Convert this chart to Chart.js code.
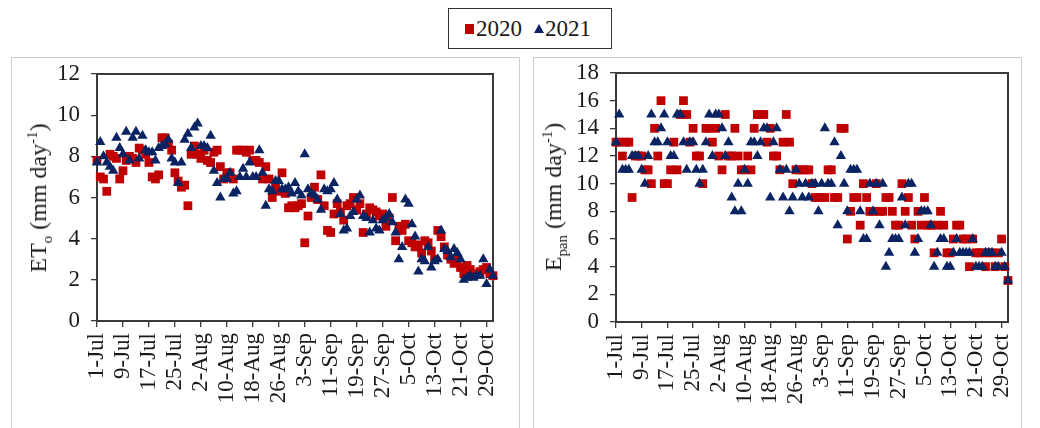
<!DOCTYPE html>
<html>
<head>
<meta charset="utf-8">
<script src="https://cdn.jsdelivr.net/npm/chart.js@4.4.1/dist/chart.umd.min.js"></script>
<style>
  html, body { margin: 0; padding: 0; background: #fff; }
  body { width: 1040px; height: 428px; overflow: hidden; position: relative;
         font-family: "Liberation Serif", "Times New Roman", serif; color: #1a1a1a; }
  .frame { position: absolute; top: 57px; height: 420px; border: 1.5px solid #cdcdcd; box-sizing: border-box; }
  .legend { position: absolute; left: 448px; top: 8px; width: 164px; height: 41px;
            border: 1.5px solid #333; box-sizing: border-box; background: #fff;
            display: flex; align-items: center; font-size: 23px; }
  .sq { display: inline-block; width: 9px; height: 10px; background: #C00000; margin: 0 2px 0 16px; }
  .tri { display: inline-block; width: 0; height: 0; border-left: 5px solid transparent;
         border-right: 5px solid transparent; border-bottom: 9px solid #0A2463; margin: 0 1px 0 12px; }
  .box { position: absolute; top: 0; height: 428px; }
  .ytitle { position: absolute; white-space: nowrap; font-size: 24px; line-height: 1;
            transform: translate(-50%, -50%) rotate(-90deg); }
  .ytitle sub, .ytitle sup { font-size: 0.62em; line-height: 0; }
</style>
</head>
<body>
<div class="frame" style="left:11px;width:509px;"></div>
<div class="frame" style="left:533px;width:489px;"></div>

<div class="legend"><span class="sq"></span>2020<span class="tri"></span>2021</div>

<div class="box" style="left:0;width:525px;"><canvas id="et" width="525" height="428"></canvas></div>
<div class="box" style="left:525px;width:515px;"><canvas id="ep" width="515" height="428"></canvas></div>

<div class="ytitle" style="left:38px;top:198px;">ET<sub>o</sub> (mm day<sup>-1</sup>)</div>
<div class="ytitle" style="left:553px;top:197px;">E<sub>pan</sub> (mm day<sup>-1</sup>)</div>

<script>
// Daily series, 1 July (index 0) to 31 October (index 122)
const dateTicks = ['1-Jul','9-Jul','17-Jul','25-Jul','2-Aug','10-Aug','18-Aug','26-Aug',
                   '3-Sep','11-Sep','19-Sep','27-Sep','5-Oct','13-Oct','21-Oct','29-Oct'];
const tickStepDays = 8;

// Reference evapotranspiration ETo (mm/day)
const eto2020 = [
  7.8,7.0,6.9,6.3,8.1,8.0,7.9,6.9,7.3,7.8, 8.0,7.9,7.7,8.4,8.3,8.1,7.7,7.0,6.9,7.1,
  8.9,8.9,8.6,8.3,7.2,6.8,6.5,6.6,5.6,8.1, 8.5,8.1,7.9,8.3,7.8,7.7,8.2,8.3,7.5,6.9,
  7.2,7.2,6.9,8.3,8.3,8.3,8.2,8.3,7.8,7.8, 7.7,6.9,7.5,6.9,6.0,6.5,6.3,7.2,6.2,5.5,
  5.6,5.5,5.6,5.7,3.8,5.1,6.0,6.5,5.9,7.1, 5.6,4.4,4.3,5.2,5.7,5.3,4.9,5.6,5.7,6.0,
  5.4,5.7,4.3,5.2,5.5,5.4,5.3,5.1,5.2,4.6, 5.0,6.0,3.9,4.6,4.4,4.7,3.9,3.8,3.6,3.7,
  3.3,3.9,3.8,3.4,3.0,4.4,4.1,3.6,3.2,3.0, 2.8,3.0,2.6,2.3,2.7,2.5,2.2,2.3,2.4,2.5,
  2.6,2.3,2.2
];
const eto2021 = [
  7.7,8.7,8.0,7.7,7.5,7.3,8.9,8.4,8.1,9.2, 7.8,8.9,9.2,7.9,9.0,8.3,8.2,8.2,7.8,8.4,
  8.5,8.6,8.8,7.9,7.7,6.7,7.7,8.8,9.1,8.4, 9.4,9.6,8.5,8.5,8.4,9.0,7.3,6.7,6.0,6.9,
  6.9,7.2,6.2,6.3,7.0,7.4,7.0,7.7,7.0,7.0, 8.3,7.2,5.6,6.4,6.3,6.8,6.8,6.4,6.4,6.5,
  6.2,6.7,6.3,6.1,8.1,6.4,6.2,6.1,5.9,5.4, 6.4,6.3,6.4,6.7,5.9,5.2,4.4,4.5,5.1,5.3,
  5.9,6.1,5.1,5.0,4.3,4.9,4.5,4.4,4.9,5.0, 5.2,4.8,4.3,3.0,3.6,5.9,5.7,4.7,4.1,2.4,
  3.0,2.9,3.6,2.6,2.9,3.0,4.4,3.5,3.4,3.1, 3.5,3.3,3.0,2.0,2.1,2.2,2.1,2.2,2.2,3.0,
  1.8,2.5,2.2
];

// Pan evaporation Epan (mm/day)
const epan2020 = [
  13,13,12,13,13,9,12,12,12,11, 11,10,14,12,16,10,10,11,13,11,
  15,16,15,13,14,12,12,10,14,14, 13,14,12,11,15,12,12,14,12,11,
  11,12,11,14,15,15,15,13,14,12, 12,11,13,15,13,10,11,11,11,11,
  11,10,9,9,9,9,11,11,9,9, 14,14,6,8,9,9,7,10,9,8,
  8,10,8,8,9,9,8,7,7,10, 8,9,7,6,8,7,9,7,7,5,
  7,8,7,5,5,6,7,7,6,6, 4,6,5,5,5,4,5,5,4,5,
  6,4,3
];
const epan2021 = [
  13,15,11,11,11,12,12,12,11,10, 12,15,13,13,14,15,13,12,12,15,
  15,13,11,13,13,11,10,11,13,15, 12,15,15,14,12,13,9,8,10,8,
  11,10,13,13,12,13,14,14,9,13, 14,11,9,11,8,9,11,10,9,10,
  9,10,10,8,10,14,10,10,13,7, 12,10,8,11,11,11,8,6,6,10,
  8,10,7,10,4,5,6,6,6,9, 7,10,10,5,6,8,8,8,7,4,
  5,6,6,4,4,5,6,5,5,5, 5,6,4,4,4,5,5,5,4,4,
  5,4,3
];

const RED = '#C00000';
const NAVY = '#0A2463';
const INK = '#1a1a1a';
const AXIS = '#3a3a3a';
const SERIF = '"Liberation Serif", "Times New Roman", serif';
const lastDay = 122;

const toPoints = arr => arr.map((v, i) => ({ x: i, y: v }));

// Closes the plot area with a full rectangular border
const plotFrame = {
  id: 'plotFrame',
  beforeDatasetsDraw(chart) {
    const a = chart.chartArea, ctx = chart.ctx;
    ctx.save();
    ctx.strokeStyle = AXIS;
    ctx.lineWidth = 2;
    ctx.strokeRect(a.left, a.top, a.right - a.left, a.bottom - a.top);
    ctx.restore();
  }
};

function makeChart(id, s2020, s2021, yMax, yStep, geom) {
  return new Chart(document.getElementById(id), {
    type: 'scatter',
    data: {
      datasets: [
        { label: '2020', data: toPoints(s2020), pointStyle: 'rect', pointRadius: 6.2,
          backgroundColor: RED, borderColor: RED, borderWidth: 0, order: 1, clip: false },
        { label: '2021', data: toPoints(s2021), pointStyle: 'triangle', pointRadius: 6,
          backgroundColor: NAVY, borderColor: NAVY, borderWidth: 0, order: 0, clip: false }
      ]
    },
    options: {
      responsive: false,
      animation: false,
      devicePixelRatio: 1,
      layout: { padding: { left: 0, top: geom.top, right: geom.right, bottom: 0 } },
      plugins: { legend: { display: false }, tooltip: { enabled: false } },
      elements: { point: { hoverRadius: 6 } },
      scales: {
        x: {
          type: 'linear', min: 0, max: lastDay,
          afterBuildTicks: s => { s.ticks = dateTicks.map((_, i) => ({ value: i * tickStepDays })); },
          afterFit: s => { s.height = geom.xHeight; },
          ticks: {
            autoSkip: false, minRotation: 90, maxRotation: 90, padding: 6,
            color: INK, font: { family: SERIF, size: 23 },
            callback: (v, i) => dateTicks[i]
          },
          grid: { drawOnChartArea: false, drawTicks: true, tickLength: 6, color: AXIS, lineWidth: 1.3 },
          border: { display: true, color: AXIS, width: 2 }
        },
        y: {
          min: 0, max: yMax,
          afterFit: s => { s.width = geom.yWidth; },
          ticks: { stepSize: yStep, autoSkip: false, padding: 11, color: INK, font: { family: SERIF, size: 23 } },
          grid: { drawOnChartArea: false, drawTicks: true, tickLength: 6, color: AXIS, lineWidth: 1.3 },
          border: { display: true, color: AXIS, width: 2 }
        }
      }
    },
    plugins: [plotFrame]
  });
}

makeChart('et', eto2020, eto2021, 12, 2, { top: 74, right: 32, xHeight: 107, yWidth: 97 });
makeChart('ep', epan2020, epan2021, 18, 2, { top: 73, right: 32, xHeight: 106, yWidth: 91 });
</script>
</body>
</html>
